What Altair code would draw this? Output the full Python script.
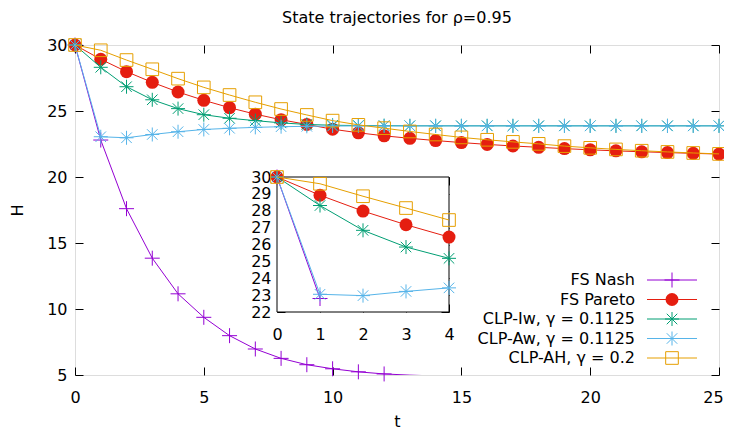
import json
import altair as alt
import pandas as pd

# ---------------- data ----------------
T = list(range(26))
FS_NASH = [30.0, 22.8, 17.6, 13.85, 11.15, 9.37, 7.98, 6.97, 6.26, 5.78, 5.47, 5.24, 5.08,
           4.99, 4.93, 4.88, 4.85, 4.83, 4.81, 4.80, 4.79, 4.79, 4.78, 4.78, 4.78, 4.78]
FS_PARETO = [30.0, 28.92, 27.98, 27.17, 26.44, 25.81, 25.25, 24.76, 24.34, 23.98, 23.62, 23.35, 23.12,
             22.93, 22.76, 22.61, 22.47, 22.35, 22.25, 22.15, 22.06, 21.98, 21.91, 21.85, 21.79, 21.74]
CLP_IW = [30.0, 28.31, 26.84, 25.85, 25.18, 24.72, 24.45, 24.27, 24.10, 23.98, 23.92, 23.90, 23.89,
          23.88, 23.88, 23.88, 23.88, 23.88, 23.88, 23.88, 23.88, 23.88, 23.88, 23.88, 23.88, 23.88]
CLP_AW = [30.0, 23.05, 22.97, 23.22, 23.43, 23.60, 23.69, 23.76, 23.81, 23.84, 23.86, 23.87, 23.87,
          23.87, 23.87, 23.87, 23.87, 23.87, 23.87, 23.87, 23.87, 23.87, 23.87, 23.87, 23.87, 23.87]
CLP_AH = [30.0, 29.6, 28.86, 28.16, 27.45, 26.79, 26.21, 25.66, 25.15, 24.70, 24.27, 23.95, 23.70,
          23.45, 23.22, 23.00, 22.82, 22.66, 22.51, 22.34, 22.21, 22.09, 21.99, 21.90, 21.82, 21.75]

NAMES = ["FS Nash", "FS Pareto", "CLP-Iw, γ = 0.1125", "CLP-Aw, γ = 0.1125", "CLP-AH, γ = 0.2"]
VALUES = [FS_NASH, FS_PARETO, CLP_IW, CLP_AW, CLP_AH]

MAIN_X = [0, 25]
MAIN_Y = [5, 30]
X_TICKS = [0, 5, 10, 15, 20, 25]
Y_TICKS = [5, 10, 15, 20, 25, 30]
INSET_X = [0, 4]
INSET_Y = [22, 30]
INSET_X_TICKS = [0, 1, 2, 3, 4]
INSET_Y_TICKS = [22, 23, 24, 25, 26, 27, 28, 29, 30]
NASH_INSET_T = 1

TITLE = "State trajectories for ρ=0.95"

# ---------------- styles / layout ----------------
FONT = "DejaVu Sans"
W, H = 644, 330
INSET_PX_X = [202, 374]
INSET_PX_Y = [267, 132]
LEGEND_PX_Y = [235, 313]
LEG_TEXT_X, LEG_L, LEG_R, LEG_M = 560, 572, 622, 597

COLORS = ["#9400d3", "#e51e10", "#009e73", "#56b4e9", "#e69f00"]
PLUS = "M-1,0L1,0M0,-1L0,1"
STAR = "M-1,0L1,0M0,-1L0,1M-0.75,-0.75L0.75,0.75M-0.75,0.75L0.75,-0.75"
SHAPES = [PLUS, "circle", STAR, STAR, "square"]
FILLED = [False, True, False, False, False]
SIZES = [225, 169, 196, 196, 160]

df = pd.DataFrame({
    "t": T * len(NAMES),
    "H": [v for vals in VALUES for v in vals],
    "series": [n for n in NAMES for _ in T],
})
box = pd.DataFrame({"x0": [INSET_X[0]], "x1": [INSET_X[1]], "y0": [INSET_Y[0]], "y1": [INSET_Y[1]]})
leg = pd.DataFrame({"series": NAMES})

AX = dict(grid=False, domain=False, tickSize=8, tickColor="black", tickWidth=1,
          labelFont=FONT, labelFontSize=16, labelColor="black", labelFlush=False,
          labelOverlap=False, titleFont=FONT, titleFontSize=16, titleColor="black",
          titleFontWeight="normal")

ax_main_bottom = alt.Axis(orient="bottom", offset=-8, values=X_TICKS, labelPadding=14,
                          labelOffset={"condition": {"test": f"datum.value >= {MAIN_X[1]}",
                                                     "value": -6}, "value": 0},
                          titleY=54, titleBaseline="middle", **AX)
ax_main_left = alt.Axis(orient="left", offset=-8, values=Y_TICKS, labelPadding=8,
                        titleAngle=270, titleX=-66, titleY=H / 2, titleBaseline="middle",
                        titleAlign="center", **AX)
ax_main_top = alt.Axis(orient="top", offset=-8, values=X_TICKS, labels=False, **AX)
ax_main_right = alt.Axis(orient="right", offset=-8, values=Y_TICKS, labels=False, **AX)

ax_in_bottom = alt.Axis(orient="bottom", offset=INSET_PX_Y[0] - 8 - H, values=INSET_X_TICKS,
                        labelPadding=14, **AX)
ax_in_left = alt.Axis(orient="left", offset=-(INSET_PX_X[0] + 8), values=INSET_Y_TICKS,
                      labelPadding=6, **AX)
ax_in_top = alt.Axis(orient="top", offset=-(INSET_PX_Y[1] + 8), values=INSET_X_TICKS,
                     labels=False, **AX)
ax_in_right = alt.Axis(orient="right", offset=(INSET_PX_X[1] - 8) - W, values=INSET_Y_TICKS,
                       labels=False, **AX)

main_xs = alt.Scale(domain=MAIN_X, nice=False, zero=False)
main_ys = alt.Scale(domain=MAIN_Y, nice=False, zero=False)
in_xs = alt.Scale(domain=INSET_X, range=INSET_PX_X, nice=False, zero=False)
in_ys = alt.Scale(domain=INSET_Y, range=INSET_PX_Y, nice=False, zero=False)

base = alt.Chart(df)

# ---------------- main plot ----------------
main_layers = []
for i, (name, color, shp, fil, sz) in enumerate(zip(NAMES, COLORS, SHAPES, FILLED, SIZES)):
    sub = base.transform_filter(alt.datum.series == name)
    if i == 0:
        lx = alt.X("t:Q", scale=main_xs, axis=ax_main_bottom, title="t")
        ly = alt.Y("H:Q", scale=main_ys, axis=ax_main_left, title="H")
        px = alt.X("t:Q", scale=main_xs, axis=ax_main_top, title=None)
        py = alt.Y("H:Q", scale=main_ys, axis=ax_main_right, title=None)
    else:
        lx = alt.X("t:Q", scale=main_xs, axis=None)
        ly = alt.Y("H:Q", scale=main_ys, axis=None)
        px, py = lx, ly
    line = sub.mark_line(color=color, strokeWidth=1, clip=True).encode(x=lx, y=ly)
    pts = sub.transform_filter(alt.datum.H >= MAIN_Y[0]).mark_point(
        shape=shp, filled=fil, size=sz, color=color, opacity=1, strokeWidth=1
    ).encode(x=px, y=py)
    main_layers += [line, pts]
main = alt.layer(*main_layers).resolve_axis(x="independent", y="independent")

# ---------------- inset ----------------
inset_layers = [
    alt.Chart(box).mark_rect(fill="white", stroke="black", strokeWidth=1).encode(
        x=alt.X("x0:Q", scale=in_xs, axis=ax_in_bottom, title=None),
        x2="x1:Q",
        y=alt.Y("y0:Q", scale=in_ys, axis=ax_in_left, title=None),
        y2="y1:Q",
    )
]
for i, (name, color, shp, fil, sz) in enumerate(zip(NAMES, COLORS, SHAPES, FILLED, SIZES)):
    tmax = NASH_INSET_T if i == 0 else INSET_X[1]
    sub = base.transform_filter(alt.datum.series == name).transform_filter(alt.datum.t <= tmax)
    if i == 0:
        lx = alt.X("t:Q", scale=in_xs, axis=ax_in_top, title=None)
        ly = alt.Y("H:Q", scale=in_ys, axis=ax_in_right, title=None)
    else:
        lx = alt.X("t:Q", scale=in_xs, axis=None)
        ly = alt.Y("H:Q", scale=in_ys, axis=None)
    px = alt.X("t:Q", scale=in_xs, axis=None)
    py = alt.Y("H:Q", scale=in_ys, axis=None)
    inset_layers.append(sub.mark_line(color=color, strokeWidth=1).encode(x=lx, y=ly))
    inset_layers.append(sub.mark_point(shape=shp, filled=fil, size=sz, color=color,
                                       opacity=1, strokeWidth=1).encode(x=px, y=py))
inset = alt.layer(*inset_layers).resolve_axis(x="independent", y="independent")

# ---------------- legend (gnuplot style: text, then sample) ----------------
leg_base = alt.Chart(leg).transform_calculate(
    row=f"indexof({json.dumps(NAMES, ensure_ascii=False)}, datum.series)"
)
leg_y = alt.Y("row:Q", scale=alt.Scale(domain=[0, len(NAMES) - 1], range=LEGEND_PX_Y,
                                       nice=False, zero=False), axis=None)
legend_layers = [
    leg_base.mark_text(align="right", baseline="middle", font=FONT, fontSize=16,
                       color="black").encode(x=alt.value(LEG_TEXT_X), y=leg_y, text="series:N")
]
for name, color, shp, fil, sz in zip(NAMES, COLORS, SHAPES, FILLED, SIZES):
    sub = leg_base.transform_filter(alt.datum.series == name)
    legend_layers.append(sub.mark_rule(color=color, strokeWidth=1).encode(
        x=alt.value(LEG_L), x2=alt.value(LEG_R), y=leg_y))
    legend_layers.append(sub.mark_point(shape=shp, filled=fil, size=sz, color=color,
                                        opacity=1, strokeWidth=1).encode(x=alt.value(LEG_M), y=leg_y))
legend = alt.layer(*legend_layers)

chart = alt.layer(main, inset, legend).resolve_scale(
    x="independent", y="independent"
).properties(
    width=W, height=H,
    autosize=alt.AutoSizeParams(type="none"),
    padding={"left": 67, "top": 37, "right": 5, "bottom": 58},
    title=alt.Title(TITLE, font=FONT, fontSize=16, fontWeight="normal", color="black",
                    offset=10, anchor="middle", frame="group"),
).configure_view(stroke="black", strokeWidth=1).configure(background="white")

chart.save("out.html", embed_options={"renderer": "svg", "actions": False})
